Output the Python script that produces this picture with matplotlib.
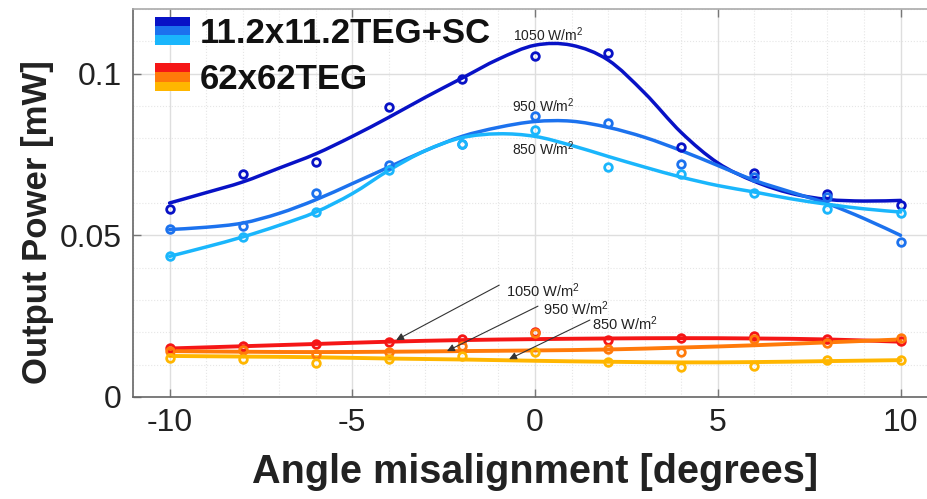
import numpy as np
import matplotlib
matplotlib.use("Agg")
import matplotlib.pyplot as plt
from matplotlib.path import Path
from matplotlib.patches import PathPatch, Rectangle, Patch
from matplotlib.legend_handler import HandlerBase
from matplotlib.ticker import MultipleLocator

plt.rcParams['font.family'] = ['Liberation Sans', 'DejaVu Sans']
plt.rcParams['axes.unicode_minus'] = False
plt.rcParams['mathtext.fontset'] = 'custom'
plt.rcParams['mathtext.rm'] = 'Liberation Sans'
plt.rcParams['mathtext.it'] = 'Liberation Sans:italic'

# ---- data ----------------------------------------------------------------
angles = [-10, -8, -6, -4, -2, 0, 2, 4, 6, 8, 10]
fit_angles_fine = list(range(-10, 11))

# 11.2x11.2 TEG + SC, measured points
sc_1050 = [0.0582, 0.0690, 0.0728, 0.0896, 0.0982, 0.1055, 0.1064, 0.0773, 0.0692, 0.0627, 0.0593]
sc_950 = [0.0520, 0.0528, 0.0632, 0.0716, 0.0784, 0.0869, 0.0848, 0.0721, 0.0680, 0.0618, 0.0479]
sc_850 = [0.0435, 0.0495, 0.0572, 0.0701, 0.0783, 0.0827, 0.0712, 0.0690, 0.0632, 0.0582, 0.0568]

# 11.2x11.2 TEG + SC, fitted trend (1 degree steps)
sc_fit_1050 = [0.0600, 0.0632, 0.0665, 0.0708, 0.0752, 0.0806, 0.0865, 0.0927, 0.0986, 0.1045, 0.1088,
               0.1088, 0.1042, 0.0940, 0.0818, 0.0724, 0.0667, 0.0630, 0.0611, 0.0606, 0.0608]
sc_fit_950 = [0.0518, 0.0525, 0.0538, 0.0568, 0.0610, 0.0660, 0.0711, 0.0762, 0.0806, 0.0834, 0.0852,
              0.0853, 0.0834, 0.0803, 0.0762, 0.0716, 0.0670, 0.0634, 0.0598, 0.0552, 0.0500]
sc_fit_850 = [0.0435, 0.0464, 0.0495, 0.0531, 0.0572, 0.0629, 0.0701, 0.0762, 0.0802, 0.0814, 0.0806,
              0.0778, 0.0744, 0.0711, 0.0680, 0.0654, 0.0634, 0.0613, 0.0596, 0.0582, 0.0572]

# 62x62 TEG, measured points
teg_1050 = [0.0152, 0.0157, 0.0164, 0.0171, 0.0178, 0.0202, 0.0176, 0.0181, 0.0188, 0.0178, 0.0174]
teg_950 = [0.0143, 0.0145, 0.0133, 0.0140, 0.0157, 0.0197, 0.0147, 0.0140, 0.0178, 0.0168, 0.0181]
teg_850 = [0.0122, 0.0119, 0.0106, 0.0116, 0.0128, 0.0138, 0.0107, 0.0092, 0.0097, 0.0114, 0.0114]

# 62x62 TEG, fitted trend
teg_fit_1050 = [0.0150, 0.0157, 0.0164, 0.0171, 0.0176, 0.0179, 0.0181, 0.0182, 0.0181, 0.0178, 0.0171]
teg_fit_950 = [0.0142, 0.0140, 0.0139, 0.0140, 0.0142, 0.0144, 0.0147, 0.0153, 0.0160, 0.0169, 0.0178]
teg_fit_850 = [0.0127, 0.0125, 0.0123, 0.0119, 0.0116, 0.0112, 0.0109, 0.0107, 0.0108, 0.0111, 0.0114]

legend_labels = ['11.2x11.2TEG+SC', '62x62TEG']
irradiance_labels = ['1050 W/m$^{2}$', '950 W/m$^{2}$', '850 W/m$^{2}$']
x_ticks = [-10, -5, 0, 5, 10]
y_ticks = [0, 0.05, 0.1]
y_tick_labels = ['0', '0.05', '0.1']

blues = ['#0812c6', '#1c72ee', '#1ab6fc']
warm = ['#f51616', '#ff7a0a', '#ffb600']


# ---- helpers -------------------------------------------------------------
def smooth_path(xs, ys):
    """Catmull-Rom curve through the given values, as cubic Bezier segments."""
    pts = np.column_stack([xs, ys]).astype(float)
    verts = [tuple(pts[0])]
    codes = [Path.MOVETO]
    n = len(pts)
    for i in range(n - 1):
        p0 = pts[max(i - 1, 0)]
        p1 = pts[i]
        p2 = pts[i + 1]
        p3 = pts[min(i + 2, n - 1)]
        c1 = p1 + (p2 - p0) / 6.0
        c2 = p2 - (p3 - p1) / 6.0
        verts += [tuple(c1), tuple(c2), tuple(p2)]
        codes += [Path.CURVE4] * 3
    return Path(verts, codes)


class StackedSwatch(HandlerBase):
    """Legend key made of horizontal colour bands."""
    def __init__(self, colors):
        super().__init__()
        self.colors = colors

    def create_artists(self, legend, orig_handle, xdescent, ydescent,
                       width, height, fontsize, trans):
        n = len(self.colors)
        h = height / n
        arts = []
        for i, c in enumerate(self.colors):
            arts.append(Rectangle((-xdescent, -ydescent + height - (i + 1) * h),
                                  width, h, facecolor=c, edgecolor='none',
                                  transform=trans))
        return arts


# ---- figure --------------------------------------------------------------
fig = plt.figure(figsize=(9.27, 4.99), dpi=100)
ax = fig.add_axes([133 / 927, 1 - 397 / 499, 22 * 36.55 / 927, 388 / 499])
ax.set_xlim(-11, 11)
ax.set_ylim(0, 0.12)

ax.xaxis.set_minor_locator(MultipleLocator(1))
ax.yaxis.set_minor_locator(MultipleLocator(0.01))
ax.set_axisbelow(True)
ax.grid(which='major', color='#dedede', lw=1.0)
ax.grid(which='minor', color='#e6e6e6', lw=0.8, ls=':')

ax.set_xticks(x_ticks)
ax.set_yticks(y_ticks)
ax.set_yticklabels(y_tick_labels)
ax.tick_params(which='major', direction='in', length=6, width=1, color='#777777',
               top=True, right=True, labelsize=23, labelcolor='#222222', pad=8)
ax.tick_params(which='minor', length=0)
for side in ['left', 'bottom']:
    ax.spines[side].set_color('#666666')
for side in ['top', 'right']:
    ax.spines[side].set_color('#aaaaaa')
for s in ax.spines.values():
    s.set_linewidth(1.2)

# fitted curves
for fit, c in zip([sc_fit_1050, sc_fit_950, sc_fit_850], blues):
    ax.add_patch(PathPatch(smooth_path(fit_angles_fine, fit), fill=False, edgecolor=c,
                           lw=2.5, capstyle='round', joinstyle='round', zorder=3))
for fit, c in zip([teg_fit_1050, teg_fit_950, teg_fit_850], warm):
    ax.add_patch(PathPatch(smooth_path(angles, fit), fill=False, edgecolor=c,
                           lw=2.8, capstyle='round', joinstyle='round', zorder=3))

# measured points
for vals, c in zip([sc_1050, sc_950, sc_850], blues):
    ax.plot(angles, vals, ls='none', marker='o', ms=5.5, mfc='none', mec=c, mew=2.0, zorder=4)
for vals, c in zip([teg_1050, teg_950, teg_850], warm):
    ax.plot(angles, vals, ls='none', marker='o', ms=5.5, mfc='none', mec=c, mew=2.0, zorder=4)

# irradiance labels on the upper curves
top_label_pos = [(-0.6, 0.1102), (-0.63, 0.0880), (-0.63, 0.0747)]
for (tx, ty), lab in zip(top_label_pos, irradiance_labels):
    ax.text(tx, ty, lab, fontsize=10, color='#222222', ha='left', va='baseline', zorder=5)

# irradiance labels with arrows on the lower curves
low_text_pos = [(-0.79, 0.0330), (0.22, 0.0272), (1.56, 0.0228)]
arrow_tail = [(-0.98, 0.0346), (0.08, 0.0281), (1.50, 0.0238)]
arrow_head = [(-3.80, 0.0176), (-2.41, 0.0142), (-0.71, 0.0117)]
for (tx, ty), tail, head, lab in zip(low_text_pos, arrow_tail, arrow_head, irradiance_labels):
    ax.text(tx, ty, lab, fontsize=10.5, color='#222222', ha='left', va='center', zorder=5)
    ax.annotate('', xy=head, xytext=tail,
                arrowprops=dict(arrowstyle='-|>', color='#333333', lw=0.8,
                                mutation_scale=11, shrinkA=0, shrinkB=0),
                zorder=5)

ax.set_xlabel('Angle misalignment [degrees]', fontsize=28.5, fontweight='bold',
              color='#222222')
ax.xaxis.set_label_coords(0.5, -56 / 388, transform=ax.transAxes)
ax.xaxis.label.set_va('top')
ax.set_ylabel('Output Power [mW]', fontsize=25, fontweight='bold', color='#222222')
ax.yaxis.set_label_coords(-79 / 804, (397 - 222) / 388)

h1, h2 = Patch(), Patch()
leg = ax.legend([h1, h2], legend_labels,
                handler_map={h1: StackedSwatch(blues), h2: StackedSwatch(warm)},
                loc='upper left', bbox_to_anchor=(22 / 804, 0.98), frameon=False,
                borderpad=0, borderaxespad=0, handlelength=1.0, handleheight=0.85,
                handletextpad=0.3, labelspacing=0.38,
                prop={'size': 25, 'weight': 'bold'})
for t in leg.get_texts():
    t.set_color('#111111')

fig.savefig('out.png', dpi=100)
